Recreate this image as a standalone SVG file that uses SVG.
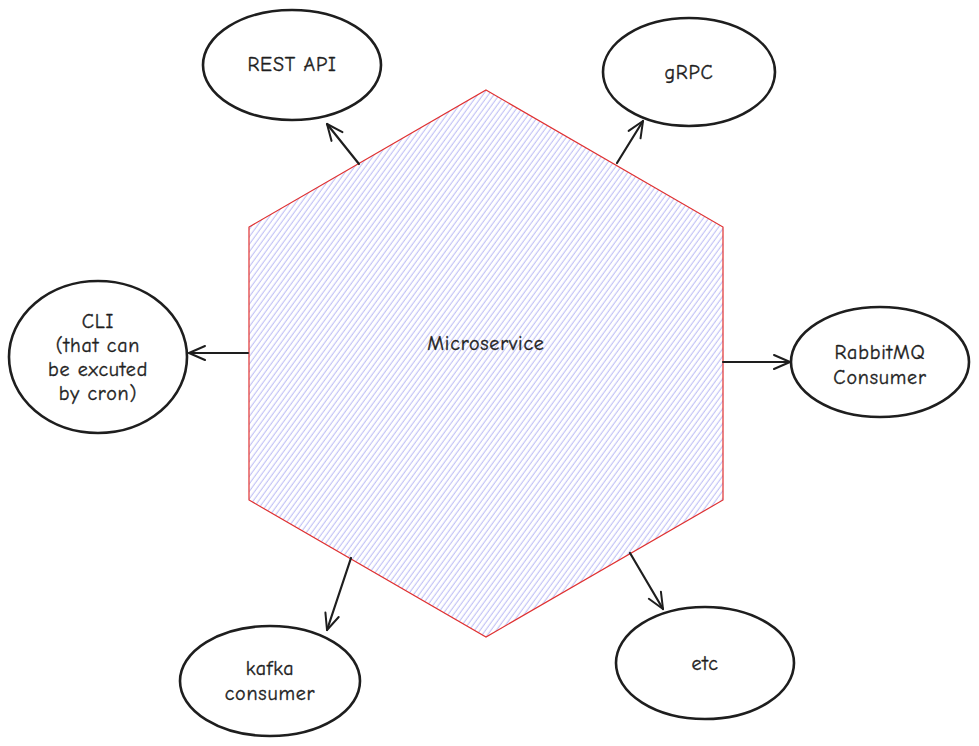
<svg xmlns="http://www.w3.org/2000/svg" width="979" height="746" viewBox="0 0 979 746">
<defs>
<pattern id="hatch" patternUnits="userSpaceOnUse" width="4.4" height="10" patternTransform="rotate(36)">
<line x1="2" y1="0" x2="2" y2="10" stroke="#a8a8f2" stroke-width="0.85"/>
</pattern>
<marker id="arr" viewBox="0 0 20 20" refX="18" refY="10" markerWidth="20" markerHeight="20" markerUnits="userSpaceOnUse" orient="auto">
<path d="M2 3 L18 10 L2 17" fill="none" stroke="#1e1e1e" stroke-width="2" stroke-linecap="round" stroke-linejoin="round"/>
</marker>
</defs>
<style>
.node ellipse{fill:#ffffff;stroke:#1e1e1e;stroke-width:2.6}
.lbl{font-family:"Comic Neue","Liberation Sans",sans-serif;font-size:20px;letter-spacing:0.8px;fill:#1e1e1e;stroke:#1e1e1e;stroke-width:0.35;text-anchor:middle;dominant-baseline:central}
.conn line{stroke:#1e1e1e;stroke-width:2.2;stroke-linecap:round;marker-end:url(#arr)}
</style>
<rect width="979" height="746" fill="#ffffff"/>
<g id="microservice" class="node">
<polygon points="486,90 723,227 723,500 486,637 249,500 249,227" fill="url(#hatch)" stroke="#e03131" stroke-width="1.2"/>
<text class="lbl" x="486" y="343">Microservice</text>
</g>
<g id="rest-api" class="node">
<ellipse cx="292" cy="65" rx="89" ry="55"/>
<text class="lbl" x="292" y="64">REST API</text>
</g>
<g id="grpc" class="node">
<ellipse cx="689" cy="72" rx="86" ry="54"/>
<text class="lbl" x="689" y="72">gRPC</text>
</g>
<g id="cli" class="node">
<ellipse cx="98" cy="357" rx="89" ry="76"/>
<text class="lbl" x="98" y="321">CLI</text>
<text class="lbl" x="98" y="345">(that can</text>
<text class="lbl" x="98" y="369">be excuted</text>
<text class="lbl" x="98" y="393">by cron)</text>
</g>
<g id="rabbitmq" class="node">
<ellipse cx="880" cy="362" rx="89" ry="55"/>
<text class="lbl" x="880" y="352">RabbitMQ</text>
<text class="lbl" x="880" y="377">Consumer</text>
</g>
<g id="kafka" class="node">
<ellipse cx="270" cy="681" rx="90" ry="55"/>
<text class="lbl" x="270" y="668">kafka</text>
<text class="lbl" x="270" y="693">consumer</text>
</g>
<g id="etc" class="node">
<ellipse cx="705" cy="663" rx="89" ry="56"/>
<text class="lbl" x="705" y="663">etc</text>
</g>
<g id="connectors" class="conn">
<line x1="359" y1="164" x2="327" y2="124"/>
<line x1="617" y1="163" x2="643" y2="121"/>
<line x1="248" y1="353" x2="189" y2="353"/>
<line x1="723" y1="362" x2="790" y2="362"/>
<line x1="351" y1="558" x2="327" y2="630"/>
<line x1="630" y1="553" x2="663" y2="609"/>
</g>
</svg>
